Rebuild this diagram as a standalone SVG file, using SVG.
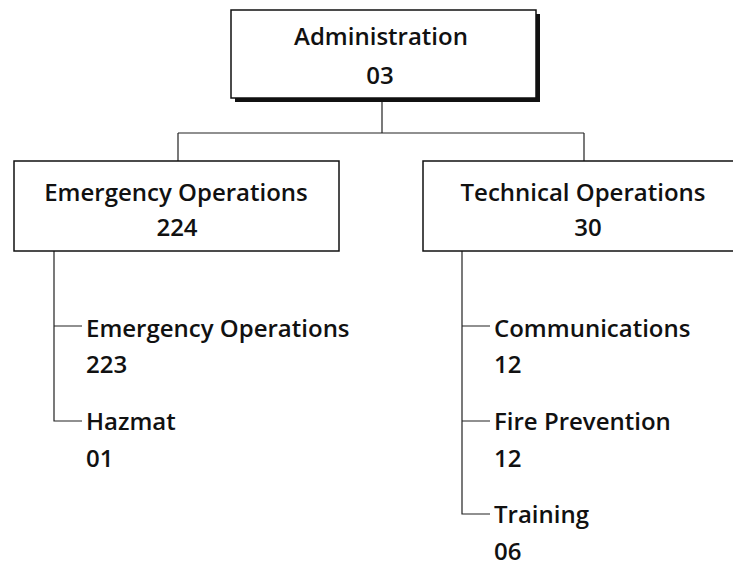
<svg xmlns="http://www.w3.org/2000/svg" width="733" height="568" viewBox="0 0 733 568">
<style>
.box{fill:#fff;stroke:#111;stroke-width:1.5}
.shadow{fill:#111}
.conn{fill:none;stroke:#222;stroke-width:1.2}
text{font-family:"Open Sans","Noto Sans",sans-serif;font-weight:600;font-size:24px;fill:#111}
.c{text-anchor:middle}
</style>
<rect width="733" height="568" fill="#fff"/>
<g id="connectors">
<path class="conn" d="M382,100 V133 M178,133 H584 M178,133 V161 M584,133 V161"/>
<path class="conn" d="M54,251 V421 H82 M54,326 H82"/>
<path class="conn" d="M462,251 V514 H490 M462,326 H490 M462,421 H490"/>
</g>
<g id="admin">
<rect class="shadow" x="235" y="14" width="305" height="88"/>
<rect class="box" x="231" y="10" width="305" height="88"/>
<text class="c" x="381" y="45">Administration</text>
<text class="c" x="380" y="84">03</text>
</g>
<g id="emergency">
<rect class="box" x="14" y="161" width="325" height="90"/>
<text class="c" x="176" y="201">Emergency Operations</text>
<text class="c" x="177" y="236">224</text>
</g>
<g id="technical">
<rect class="box" x="423" y="161" width="330" height="90"/>
<text class="c" x="583" y="201">Technical Operations</text>
<text class="c" x="588" y="236">30</text>
</g>
<g id="em-ops">
<text x="86" y="337">Emergency Operations</text>
<text x="86" y="373">223</text>
</g>
<g id="hazmat">
<text x="86" y="430">Hazmat</text>
<text x="86" y="467">01</text>
</g>
<g id="communications">
<text x="494" y="337">Communications</text>
<text x="494" y="373">12</text>
</g>
<g id="fire-prevention">
<text x="494" y="430">Fire Prevention</text>
<text x="494" y="467">12</text>
</g>
<g id="training">
<text x="494" y="523">Training</text>
<text x="494" y="560">06</text>
</g>
</svg>
